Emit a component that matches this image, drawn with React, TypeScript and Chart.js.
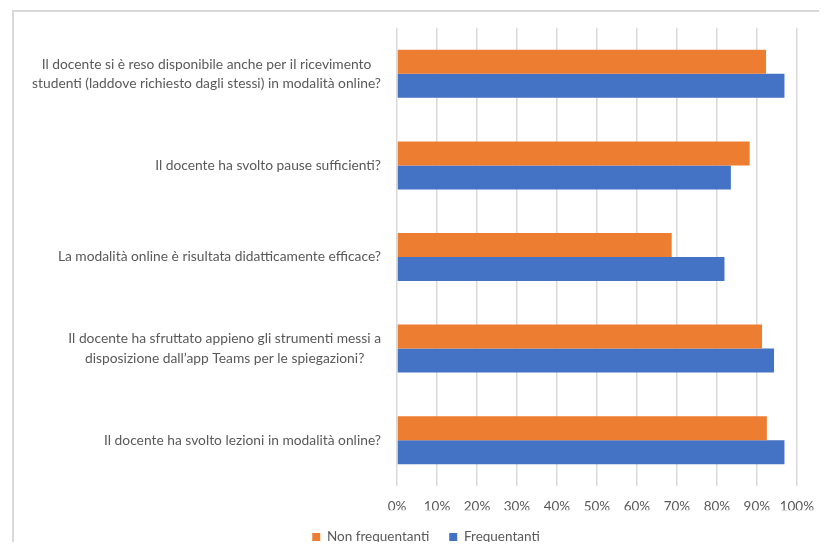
import React, { useEffect, useRef } from "react";
import { Chart, registerables } from "chart.js";

Chart.register(...registerables);

const categories: string[][] = [
  ["Il docente si è reso disponibile anche per il ricevimento", "studenti (laddove richiesto dagli stessi) in modalità online?"],
  ["Il docente ha svolto pause sufficienti?"],
  ["La modalità online è risultata didatticamente efficace?"],
  ["Il docente ha sfruttato appieno gli strumenti messi a", "disposizione dall’app Teams per le spiegazioni?"],
  ["Il docente ha svolto lezioni in modalità online?"],
];

const nonFrequentanti = [92.3, 88.2, 68.7, 91.3, 92.5];
const frequentanti = [96.9, 83.5, 81.9, 94.3, 96.9];

const seriesNames = ["Non frequentanti", "Frequentanti"];
const xTicks = [0, 10, 20, 30, 40, 50, 60, 70, 80, 90, 100];

const FONT = "Lato";
const TEXT = "#595959";
const LABEL_SIZE = 13.8;
const LABEL_LINE = 19.3;
const LABEL_GAP = 16;

// Draws category labels as centred text blocks, right-aligned against the y axis
const blockLabels = {
  id: "blockLabels",
  afterDraw(chart: any) {
    const y = chart.scales.y;
    const ctx = chart.ctx;
    const labels: string[][] = chart.data.labels;
    ctx.save();
    ctx.font = `${LABEL_SIZE}px ${FONT}`;
    ctx.fillStyle = TEXT;
    ctx.textAlign = "center";
    ctx.textBaseline = "middle";
    const right = chart.chartArea.left - LABEL_GAP;
    labels.forEach((lines, i) => {
      const w = Math.max(...lines.map((l) => ctx.measureText(l).width));
      const cx = right - w / 2;
      const cy = y.getPixelForTick(i);
      const top = cy - ((lines.length - 1) * LABEL_LINE) / 2;
      lines.forEach((l, j) => ctx.fillText(l, cx, top + j * LABEL_LINE));
    });
    ctx.restore();
  },
};

export default function App() {
  const ref = useRef<HTMLCanvasElement>(null);
  useEffect(() => {
    const canvas = ref.current;
    if (!canvas) return;
    const chart = new Chart(canvas, {
      type: "bar",
      data: {
        labels: categories,
        datasets: [
          { label: seriesNames[0], data: nonFrequentanti, backgroundColor: "#ED7D31", borderWidth: 0 },
          { label: seriesNames[1], data: frequentanti, backgroundColor: "#4472C4", borderWidth: 0 },
        ],
      },
      options: {
        indexAxis: "y",
        responsive: false,
        animation: false,
        datasets: { bar: { categoryPercentage: 0.524, barPercentage: 1 } },
        layout: { padding: { top: 28, right: 25, bottom: -3.75, left: 50 } },
        scales: {
          x: {
            min: 0,
            max: 100,
            afterBuildTicks: (scale: any) => {
              scale.ticks = xTicks.map((v) => ({ value: v }));
            },
            afterFit: (scale: any) => {
              scale.height = 24.25;
            },
            grid: { color: "#d9d9d9", lineWidth: 1.5, drawTicks: false },
            border: { display: false },
            ticks: {
              padding: 13,
              color: TEXT,
              font: { family: FONT, size: 13.5 },
              callback: (v: any) => v + "%",
            },
          },
          y: {
            afterFit: (scale: any) => {
              scale.width = 347;
            },
            grid: { display: false, drawTicks: false },
            border: { display: false },
            ticks: { display: false },
          },
        },
        plugins: {
          legend: {
            position: "bottom",
            labels: {
              boxWidth: 8,
              boxHeight: 8,
              padding: 20,
              color: TEXT,
              font: { family: FONT, size: 13.5 },
            },
          },
          tooltip: { enabled: false },
        },
      },
      plugins: [blockLabels],
    });
    return () => chart.destroy();
  }, []);

  return (
    <div style={{ position: "relative", width: 827, height: 550, margin: -8, overflow: "hidden", background: "#fff" }}>
      <div
        style={{
          position: "absolute",
          left: 12,
          top: 10,
          width: 840,
          height: 560,
          borderTop: "2px solid #d9d9d9",
          borderLeft: "2px solid #d9d9d9",
        }}
      />
      <canvas ref={ref} width={827} height={550} style={{ position: "absolute", left: 0, top: 0 }} />
    </div>
  );
}
